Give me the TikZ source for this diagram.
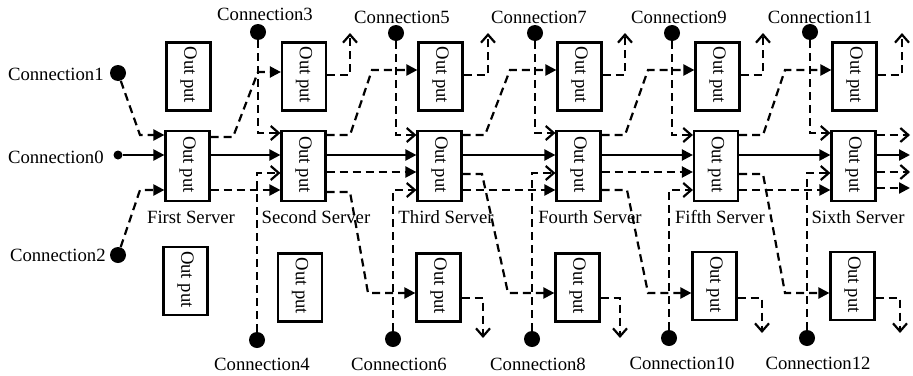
\documentclass[tikz,border=0pt]{standalone}
\usepackage{fontspec}
\setmainfont{Liberation Serif}
\usetikzlibrary{arrows.meta}
\newcommand\OPtext{\rotatebox{-90}{\makebox[30pt][l]{Out put}}}
\begin{document}
\begin{tikzpicture}[x=0.5pt,y=-0.5pt,
  every node/.style={font=\fontsize{9.35pt}{11pt}\selectfont},
  obox/.style={draw,line width=1.1pt,minimum width=22pt,minimum height=34pt,inner sep=0pt,fill=white},
  sbox/.style={obox,minimum height=35pt},
  dot/.style={circle,fill=black,inner sep=0pt,minimum size=8pt},
  sdot/.style={circle,fill=black,inner sep=0pt,minimum size=4.5pt},
  lab/.style={inner sep=0pt},
  dl/.style={line width=1.1pt,dash pattern=on 4pt off 2.5pt},
  sl/.style={line width=1.1pt},
  tri/.style={-{Triangle[length=5.5pt,width=5.5pt]}},
  opn/.style={-{Straight Barb[length=4pt,width=7pt]}}]
\useasboundingbox (0,0) rectangle (913,375);
\fill[white] (0,0) rectangle (913,375);

% server boxes
\node[sbox] (s1) at (187.5,166) {\OPtext};
\node[sbox] (s2) at (303.5,166) {\OPtext};
\node[sbox] (s3) at (439.5,166) {\OPtext};
\node[sbox] (s4) at (578.5,166) {\OPtext};
\node[sbox] (s5) at (716,166) {\OPtext};
\node[sbox] (s6) at (853.5,166) {\OPtext};
% top output boxes
\node[obox] (t1) at (188.5,76.5) {\OPtext};
\node[obox] (t2) at (304,76.5) {\OPtext};
\node[obox] (t3) at (440.5,76.5) {\OPtext};
\node[obox] (t4) at (579.5,76.5) {\OPtext};
\node[obox] (t5) at (717.5,76.5) {\OPtext};
\node[obox] (t6) at (854.5,76.5) {\OPtext};
% bottom output boxes
\node[obox] (b1) at (185.5,281) {\OPtext};
\node[obox] (b2) at (300,287.5) {\OPtext};
\node[obox] (b3) at (438.5,287.5) {\OPtext};
\node[obox] (b4) at (577.5,287.5) {\OPtext};
\node[obox] (b5) at (714.5,286) {\OPtext};
\node[obox] (b6) at (852.5,286) {\OPtext};

% server labels
\node[lab] (l1) at (191,217) {First Server};
\node[lab] (l2) at (316,217) {Second Server};
\node[lab] (l3) at (446,217) {Third Server};
\node[lab] (l4) at (590,217) {Fourth Server};
\node[lab] (l5) at (720,217) {Fifth Server};
\node[lab] (l6) at (858,217) {Sixth Server};

% connection dots
\node[sdot] (c0) at (118,155) {};
\node[dot] (c1) at (118,73) {};
\node[dot] (c2) at (118,255) {};
\node[dot] (c3) at (258,32) {};
\node[dot] (c5) at (396,33) {};
\node[dot] (c7) at (535,33) {};
\node[dot] (c9) at (672,33) {};
\node[dot] (c11) at (810,32) {};
\node[dot] (c4) at (257,340) {};
\node[dot] (c6) at (393,339) {};
\node[dot] (c8) at (532,339) {};
\node[dot] (c10) at (669,338) {};
\node[dot] (c12) at (807,338) {};

% connection labels
\node[lab,anchor=east] (n0) at (104,157) {Connection0};
\node[lab,anchor=east] (n1) at (104,74) {Connection1};
\node[lab,anchor=east] (n2) at (106,255) {Connection2};
\node[lab] (n3) at (265,14) {Connection3};
\node[lab] (n5) at (402,17) {Connection5};
\node[lab] (n7) at (539,17) {Connection7};
\node[lab] (n9) at (679,17) {Connection9};
\node[lab] (n11) at (820,17) {Connection11};
\node[lab] (n4) at (262,364) {Connection4};
\node[lab] (n6) at (399,364) {Connection6};
\node[lab] (n8) at (538,364) {Connection8};
\node[lab] (n10) at (682,363) {Connection10};
\node[lab] (n12) at (818,363) {Connection12};

% free ends
\coordinate (e1) at (910,135);
\coordinate (e2) at (910,155);
\coordinate (e3) at (910,172);
\coordinate (e4) at (910,188);
\coordinate (u2) at (350,33);
\coordinate (u3) at (488,33);
\coordinate (u4) at (625,33);
\coordinate (u5) at (763,33);
\coordinate (u6) at (902,33);
\coordinate (d3) at (483,338);
\coordinate (d4) at (620,338);
\coordinate (d5) at (762,333);
\coordinate (d6) at (900,333);

% inputs of first server
\draw[dl,tri] (c1) -- (140,135) -- (s1.west |- 0,135);
\draw[sl,tri] (c0) -- (s1.west |- c0);
\draw[dl,tri] (c2) -- (140,190) -- (s1.west |- 0,190);
% first server outputs
\draw[dl,tri] (s1.east |- 0,137) -- (233,137) -- (258,72) -- (t2.west |- 0,72);
\draw[sl,tri] (s1.east |- 0,155) -- (s2.west |- 0,155);
\draw[dl,tri] (s1.east |- 0,190) -- (s2.west |- 0,190);
\draw[dl,opn] (c3) -- (258,133) -- (s2.west |- 0,133);
\draw[dl,opn] (c4) -- (257,173) -- (s2.west |- 0,173);
% second server outputs
\draw[dl,tri] (s2.east |- 0,135) -- (350,135) -- (372,70) -- (t3.west |- 0,70);
\draw[sl,tri] (s2.east |- 0,155) -- (s3.west |- 0,155);
\draw[dl,tri] (s2.east |- 0,172) -- (s3.west |- 0,172);
\draw[dl,tri] (s2.east |- 0,192) -- (350,192) -- (368,293) -- (b3.west |- 0,293);
\draw[dl,opn] (c5) -- (396,135) -- (s3.west |- 0,135);
\draw[dl,opn] (c6) -- (393,190) -- (s3.west |- 0,190);
% third server outputs
\draw[dl,tri] (s3.east |- 0,135) -- (485,135) -- (510,70) -- (t4.west |- 0,70);
\draw[sl,tri] (s3.east |- 0,155) -- (s4.west |- 0,155);
\draw[dl,tri] (s3.east |- 0,174) -- (482,174) -- (508,293) -- (b4.west |- 0,293);
\draw[dl,tri] (s3.east |- 0,190) -- (s4.west |- 0,190);
\draw[dl,opn] (c7) -- (535,133) -- (s4.west |- 0,133);
\draw[dl,opn] (c8) -- (532,173) -- (s4.west |- 0,173);
% fourth server outputs
\draw[dl,tri] (s4.east |- 0,135) -- (625,135) -- (648,70) -- (t5.west |- 0,70);
\draw[sl,tri] (s4.east |- 0,155) -- (s5.west |- 0,155);
\draw[dl,tri] (s4.east |- 0,172) -- (s5.west |- 0,172);
\draw[dl,tri] (s4.east |- 0,190) -- (627,190) -- (648,293) -- (b5.west |- 0,293);
\draw[dl,opn] (c9) -- (672,135) -- (s5.west |- 0,135);
\draw[dl,opn] (c10) -- (669,190) -- (s5.west |- 0,190);
% fifth server outputs
\draw[dl,tri] (s5.east |- 0,135) -- (763,135) -- (785,70) -- (t6.west |- 0,70);
\draw[sl,tri] (s5.east |- 0,155) -- (s6.west |- 0,155);
\draw[dl,tri] (s5.east |- 0,174) -- (763,174) -- (785,293) -- (b6.west |- 0,293);
\draw[dl,tri] (s5.east |- 0,190) -- (s6.west |- 0,190);
\draw[dl,opn] (c11) -- (810,133) -- (s6.west |- 0,133);
\draw[dl,opn] (c12) -- (807,173) -- (s6.west |- 0,173);
% sixth server outputs
\draw[dl,opn] (s6.east |- e1) -- (e1);
\draw[sl,tri] (s6.east |- e2) -- (e2);
\draw[dl,opn] (s6.east |- e3) -- (e3);
\draw[dl,tri] (s6.east |- e4) -- (e4);
% top output boxes outputs
\draw[dl,opn] (t2.east |- 0,75) -- (u2 |- 0,75) -- (u2);
\draw[dl,opn] (t3.east |- 0,75) -- (u3 |- 0,75) -- (u3);
\draw[dl,opn] (t4.east |- 0,75) -- (u4 |- 0,75) -- (u4);
\draw[dl,opn] (t5.east |- 0,75) -- (u5 |- 0,75) -- (u5);
\draw[dl,opn] (t6.east |- 0,75) -- (u6 |- 0,75) -- (u6);
% bottom output boxes outputs
\draw[dl,opn] (b3.east |- 0,298) -- (d3 |- 0,298) -- (d3);
\draw[dl,opn] (b4.east |- 0,298) -- (d4 |- 0,298) -- (d4);
\draw[dl,opn] (b5.east |- 0,298) -- (d5 |- 0,298) -- (d5);
\draw[dl,opn] (b6.east |- 0,298) -- (d6 |- 0,298) -- (d6);
\end{tikzpicture}
\end{document}
